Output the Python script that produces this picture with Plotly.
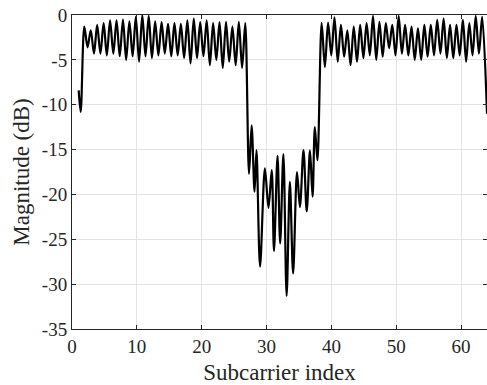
import plotly.graph_objects as go

# Subcarrier positions of read-off extrema (peaks / troughs) of the magnitude response
subcarrier = [
    1.03, 1.34,
    1.90, 2.40, 2.89, 3.39, 3.88, 4.38, 4.88, 5.37, 5.87, 6.37, 6.87, 7.36,
    7.86, 8.35, 8.85, 9.35, 9.84, 10.34, 10.84, 11.33, 11.83, 12.33, 12.82, 13.32,
    13.82, 14.31, 14.81, 15.31, 15.80, 16.30, 16.79, 17.29, 17.79, 18.28, 18.78, 19.28,
    19.77, 20.27, 20.77, 21.26, 21.76, 22.26, 22.75, 23.25, 23.75, 24.24, 24.74, 25.24,
    25.73, 26.23, 26.72,
    27.30, 27.70, 28.15, 28.45, 29.00, 29.75, 30.30, 30.80, 31.15, 31.70, 32.10, 32.60,
    33.10, 33.60, 34.10, 34.70, 35.15, 35.70, 36.20, 36.70, 37.10, 37.45, 37.85,
    38.50, 39.00, 39.49, 39.99, 40.48, 40.98, 41.47, 41.97, 42.46, 42.96, 43.45, 43.95,
    44.44, 44.94, 45.43, 45.93, 46.42, 46.92, 47.41, 47.91, 48.40, 48.90, 49.39, 49.89,
    50.38, 50.88, 51.37, 51.87, 52.36, 52.86, 53.35, 53.85, 54.34, 54.84, 55.33, 55.83,
    56.32, 56.82, 57.31, 57.81, 58.30, 58.80, 59.29, 59.79, 60.28, 60.78, 61.27, 61.77,
    62.26, 62.76, 63.25, 64.00,
]

# Magnitude in dB at those positions
magnitude_db = [
    -8.4, -10.8,
    -1.3, -3.6, -1.7, -4.3, -1.1, -4.3, -0.9, -4.5, -0.6, -4.3, -0.6, -4.6,
    -0.5, -5.0, -0.7, -4.6, -0.2, -5.2, 0.0, -4.6, -0.1, -4.8, -0.7, -4.5,
    -0.8, -4.3, -1.0, -4.6, -0.9, -4.5, -1.0, -4.8, -0.6, -5.4, -0.4, -4.8,
    -0.8, -4.6, -0.6, -5.6, -0.9, -5.0, -0.8, -5.9, -0.75, -5.2, -1.3, -5.6,
    -0.75, -5.9, -0.9,
    -17.7, -12.3, -19.7, -15.05, -28.05, -17.1, -21.5, -17.3, -26.3, -15.7, -25.45, -15.5,
    -31.3, -18.6, -28.8, -17.5, -21.4, -15.05, -21.9, -15.1, -20.25, -12.5, -16.2,
    -0.9, -5.8, -0.85, -4.5, -0.25, -5.2, -1.1, -4.65, -1.7, -5.6, -1.3, -5.2,
    -1.1, -4.8, -0.9, -4.5, -0.1, -5.0, -0.75, -4.65, -0.9, -3.7, -1.1, -4.5,
    -0.1, -4.3, -1.1, -4.5, -1.3, -5.0, -1.5, -5.0, -1.1, -4.65, -1.1, -4.5,
    -0.55, -4.3, -0.4, -4.8, -1.1, -4.8, -1.1, -4.5, -0.55, -5.2, -0.9, -4.5,
    -0.1, -4.3, -0.2, -11.0,
]

x_ticks = [0, 10, 20, 30, 40, 50, 60]
x_tick_labels = ["0", "10", "20", "30", "40", "50", "60"]
y_ticks = [0, -5, -10, -15, -20, -25, -30, -35]
y_tick_labels = ["0", "-5", "-10", "-15", "-20", "-25", "-30", "-35"]

FONT = "Liberation Serif"
AXC = "#262626"
GRID = "#e3e3e3"

fig = go.Figure()
fig.add_trace(go.Scatter(
    x=subcarrier, y=magnitude_db, mode="lines",
    line=dict(color="black", width=2.2, shape="spline", smoothing=0.9),
    showlegend=False, hoverinfo="skip",
))

fig.update_layout(
    width=487, height=385,
    margin=dict(l=72, r=0, t=15, b=56),
    paper_bgcolor="white", plot_bgcolor="white",
    font=dict(family=FONT, color=AXC, size=19),
)
fig.update_xaxes(
    range=[0, 64], tickvals=x_ticks, ticktext=x_tick_labels,
    showgrid=True, gridcolor=GRID, gridwidth=1,
    showline=True, linecolor=AXC, linewidth=1, mirror="ticks",
    ticks="inside", ticklen=4, tickcolor=AXC,
    zeroline=False, automargin=False,
    tickfont=dict(family=FONT, size=19, color=AXC),
    title=dict(text="Subcarrier index", font=dict(family=FONT, size=23, color=AXC), standoff=12),
)
fig.update_yaxes(
    range=[-35, 0], tickvals=y_ticks, ticktext=y_tick_labels,
    showgrid=True, gridcolor=GRID, gridwidth=1,
    showline=True, linecolor=AXC, linewidth=1, mirror="ticks",
    ticks="inside", ticklen=4, tickcolor=AXC,
    zeroline=False, automargin=False,
    tickfont=dict(family=FONT, size=19, color=AXC),
    title=dict(text="Magnitude (dB)", font=dict(family=FONT, size=23, color=AXC), standoff=5),
)

fig.write_html(
    "out.html",
    config={"displayModeBar": False, "staticPlot": True},
    post_script="document.body.style.margin='0';document.body.style.overflow='hidden';",
)
